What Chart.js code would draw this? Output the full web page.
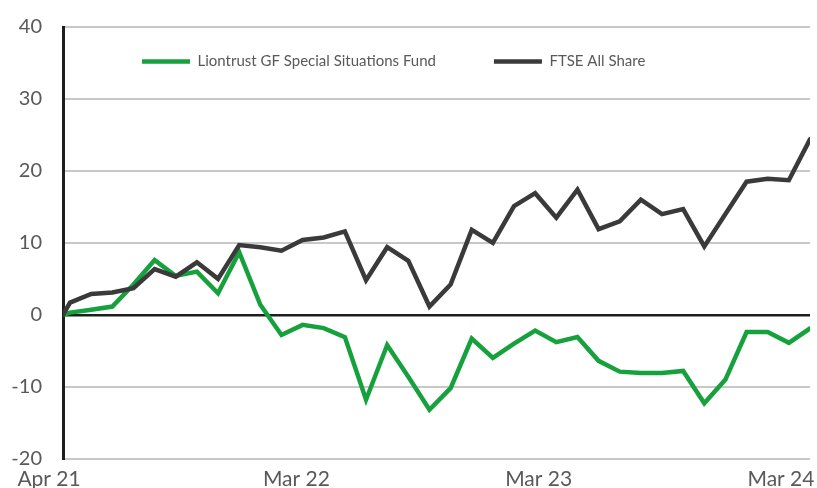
<!DOCTYPE html>
<html>
<head>
<meta charset="utf-8">
<title>Performance</title>
<script src="https://cdn.jsdelivr.net/npm/chart.js@4.4.1/dist/chart.umd.min.js"></script>
<style>
  html, body { margin: 0; padding: 0; background: #fff; }
  #wrap { width: 817px; height: 488px; }
</style>
</head>
<body>
<div id="wrap"><canvas id="chart" width="817" height="488"></canvas></div>
<script>
// Cumulative performance (%), base point followed by month-end readings Apr 21 .. Mar 24
const monthEnds = [
  'Apr 21', 'May 21', 'Jun 21', 'Jul 21', 'Aug 21', 'Sep 21', 'Oct 21', 'Nov 21', 'Dec 21',
  'Jan 22', 'Feb 22', 'Mar 22', 'Apr 22', 'May 22', 'Jun 22', 'Jul 22', 'Aug 22', 'Sep 22',
  'Oct 22', 'Nov 22', 'Dec 22', 'Jan 23', 'Feb 23', 'Mar 23', 'Apr 23', 'May 23', 'Jun 23',
  'Jul 23', 'Aug 23', 'Sep 23', 'Oct 23', 'Nov 23', 'Dec 23', 'Jan 24', 'Feb 24', 'Mar 24'
];
const fund = [
  0, 0.3, 0.7, 1.15, 4.2, 7.6, 5.4, 6.0, 3.0, 8.7, 1.4, -2.8, -1.4, -1.85, -3.1, -11.8,
  -4.2, -8.6, -13.2, -10.2, -3.3, -6.0, -4.0, -2.2, -3.8, -3.1, -6.4, -7.9, -8.1, -8.1,
  -7.8, -12.3, -9.0, -2.4, -2.4, -3.9, -1.9
];
const ftse = [
  0, 1.7, 2.9, 3.1, 3.7, 6.35, 5.3, 7.3, 5.0, 9.7, 9.4, 8.9, 10.4, 10.75, 11.6, 4.8,
  9.4, 7.5, 1.15, 4.2, 11.8, 10.0, 15.1, 16.9, 13.5, 17.4, 11.9, 13.0, 16.0, 14.0,
  14.7, 9.5, 14.0, 18.5, 18.9, 18.7, 24.4
];
const seriesNames = ['Liontrust GF Special Situations Fund', 'FTSE All Share'];

// x axis is measured in months from the base point; the first month-end
// comes a third of a month after it
const firstGap = 1 / 3;
const xTickLabels = ['Apr 21', 'Mar 22', 'Mar 23', 'Mar 24'];
const xTickPos = [-0.66, 11.04, 22.5, 33.96];
const yMin = -20;
const yMax = 40;
const yStep = 10;

const GREEN = '#16a13d';
const DARK = '#3a3a3a';
const TEXT = '#595959';
const LEGEND_GAP = 58;
const PLOT_TOP = 27;

const monthPos = (i) => (i === 0 ? 0 : firstGap + (i - 1));
const toPoints = (arr) => arr.map((v, i) => ({ x: monthPos(i), y: v }));

Chart.defaults.font.family = 'Lato, "Open Sans", sans-serif';
Chart.defaults.color = TEXT;

// the legend row is drawn inside the plot, near the top left corner
const legendPlacer = {
  id: 'legendPlacer',
  afterLayout(chart) {
    const l = chart.legend;
    const a = chart.chartArea;
    if (!l) return;
    l.left = a.left + 79 - LEGEND_GAP;
    l.right = a.right + 7;
    l.top = a.top + 27 - LEGEND_GAP;
    l.bottom = a.top + 60;
  }
};

const ctx = document.getElementById('chart').getContext('2d');
new Chart(ctx, {
  type: 'line',
  data: {
    datasets: [
      {
        label: seriesNames[0],
        data: toPoints(fund),
        borderColor: GREEN,
        backgroundColor: GREEN,
        borderWidth: 4.5,
        borderCapStyle: 'round',
        pointRadius: 0,
        tension: 0,
        order: 1
      },
      {
        label: seriesNames[1],
        data: toPoints(ftse),
        borderColor: DARK,
        backgroundColor: DARK,
        borderWidth: 4.5,
        borderCapStyle: 'round',
        pointRadius: 0,
        tension: 0,
        order: 0
      }
    ]
  },
  options: {
    responsive: false,
    devicePixelRatio: 1,
    animation: false,
    layout: { padding: { left: 0, right: 7, top: 0, bottom: 0 } },
    plugins: {
      tooltip: { enabled: false },
      legend: {
        position: 'top',
        align: 'start',
        maxHeight: PLOT_TOP,
        labels: {
          usePointStyle: true,
          pointStyle: 'line',
          pointStyleWidth: 48,
          boxHeight: 15,
          padding: LEGEND_GAP,
          color: TEXT,
          font: { size: 15 },
          sort: (a, b) => a.datasetIndex - b.datasetIndex
        }
      }
    },
    scales: {
      x: {
        type: 'linear',
        bounds: 'data',
        min: 0,
        max: monthPos(monthEnds.length),
        grid: { display: false },
        border: { display: false },
        afterBuildTicks: (scale) => {
          scale.ticks = xTickPos.map((v) => ({ value: v }));
        },
        afterFit: (scale) => { scale.height = 29.3; },
        ticks: {
          autoSkip: false,
          maxRotation: 0,
          padding: 0,
          color: TEXT,
          font: { size: 21 },
          callback: (value, index) => xTickLabels[index]
        }
      },
      y: {
        min: yMin,
        max: yMax,
        afterFit: (scale) => {
          scale.width = 63;
          scale.paddingTop = 0;
          scale.paddingBottom = 0;
        },
        grid: {
          drawTicks: false,
          color: (c) => (c.tick && c.tick.value === 0 ? '#1e1e1e' : '#c8c8c8'),
          lineWidth: (c) => (c.tick && c.tick.value === 0 ? 2.5 : 2)
        },
        border: { display: true, color: '#1e1e1e', width: 3 },
        ticks: {
          stepSize: yStep,
          padding: 21,
          color: TEXT,
          font: { size: 20 }
        }
      }
    }
  },
  plugins: [legendPlacer]
});
</script>
</body>
</html>
